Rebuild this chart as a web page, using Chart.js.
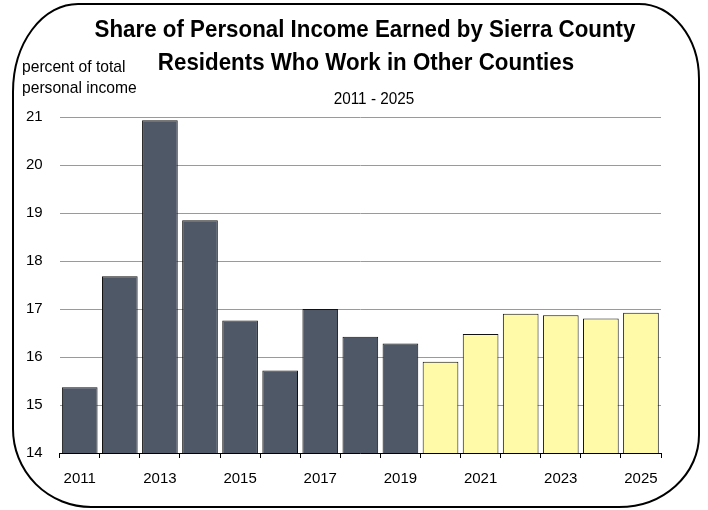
<!DOCTYPE html>
<html>
<head>
<meta charset="utf-8">
<script src="https://cdn.jsdelivr.net/npm/chart.js@4/dist/chart.umd.min.js"></script>
<style>
  html, body { margin: 0; padding: 0; background: #fff; }
  #wrap { width: 708px; height: 510px; position: relative; }
</style>
</head>
<body>
<div id="wrap"><canvas id="chart"></canvas></div>
<script>
// data
var years = ["2011", "2012", "2013", "2014", "2015", "2016", "2017", "2018",
             "2019", "2020", "2021", "2022", "2023", "2024", "2025"];
var shares = [15.37, 17.68, 20.93, 18.85, 16.76, 15.72, 17.0, 16.42,
              16.28, 15.90, 16.48, 16.90, 16.87, 16.80, 16.92];
var firstProjected = 2020;
var yTicks = [14, 15, 16, 17, 18, 19, 20, 21];

var titleLines = ['Share of Personal Income Earned by Sierra County',
                  'Residents Who Work in Other Counties'];
var yCaption = ['percent of total', 'personal income'];

var fontFamily = "'Liberation Sans', Arial, sans-serif";
var darkBar = '#4f5867';
var yellowBar = '#fffaa8';

Chart.defaults.font.family = fontFamily;
Chart.defaults.color = '#000';

// text is a bit narrow in the original, so squeeze it horizontally
function narrowText(c, text, x, y, align, squeeze) {
    c.save();
    c.translate(x, y);
    c.scale(squeeze, 1);
    c.textAlign = align;
    c.textBaseline = 'alphabetic';
    c.fillText(text, 0, 0);
    c.restore();
}

// rounded frame, titles and y axis caption
var framePlugin = {
    id: 'frame',
    afterDraw: function (chart) {
        var c = chart.ctx;
        c.save();
        c.beginPath();
        c.roundRect(13, 4, 686, 503, [
            { x: 65, y: 88 }, { x: 60, y: 75 }, { x: 80, y: 72 }, { x: 78, y: 78 }
        ]);
        c.lineWidth = 2;
        c.strokeStyle = '#000';
        c.stroke();

        c.fillStyle = '#000';
        c.font = 'bold 24px ' + fontFamily;
        narrowText(c, titleLines[0], 365, 37, 'center', 0.93);
        narrowText(c, titleLines[1], 366, 70, 'center', 0.93);

        c.font = '17px ' + fontFamily;
        narrowText(c, years[0] + ' - ' + years[years.length - 1], 374, 104, 'center', 0.9);

        c.font = '17px ' + fontFamily;
        narrowText(c, yCaption[0], 22, 72, 'left', 0.92);
        narrowText(c, yCaption[1], 22, 93, 'left', 0.92);
        c.restore();
    }
};

var ctx = document.getElementById('chart');

var chartGraph = new Chart(ctx, {
    type: 'bar',
    data: {
        labels: years,
        datasets: [{
            data: shares,
            backgroundColor: function (context) {
                return Number(years[context.dataIndex]) >= firstProjected ? yellowBar : darkBar;
            },
            borderColor: '#111',
            borderWidth: 1,
            barPercentage: 0.89,
            categoryPercentage: 1.0
        }]
    },
    options: {
        responsive: true,
        maintainAspectRatio: false,
        animation: false,
        layout: {
            padding: { left: 9, right: 47, top: 117, bottom: 10 }
        },
        plugins: {
            legend: { display: false },
            tooltip: { enabled: false }
        },
        scales: {
            x: {
                grid: {
                    offset: true,
                    drawOnChartArea: false,
                    drawTicks: true,
                    tickLength: 5,
                    color: '#000'
                },
                border: { display: true, color: '#000', width: 1 },
                ticks: {
                    autoSkip: false,
                    maxRotation: 0,
                    padding: 12,
                    font: { size: 15 },
                    color: '#000',
                    callback: function (val, i) {
                        return i % 2 === 0 ? years[i] : '';
                    }
                }
            },
            y: {
                min: yTicks[0],
                max: yTicks[yTicks.length - 1],
                afterBuildTicks: function (axis) {
                    axis.ticks = yTicks.map(function (v) { return { value: v }; });
                },
                grid: {
                    color: '#9a9a9a',
                    drawTicks: false
                },
                border: { display: false },
                ticks: {
                    padding: 17,
                    font: { size: 15 },
                    color: '#000'
                }
            }
        }
    },
    plugins: [framePlugin]
});
</script>
</body>
</html>
